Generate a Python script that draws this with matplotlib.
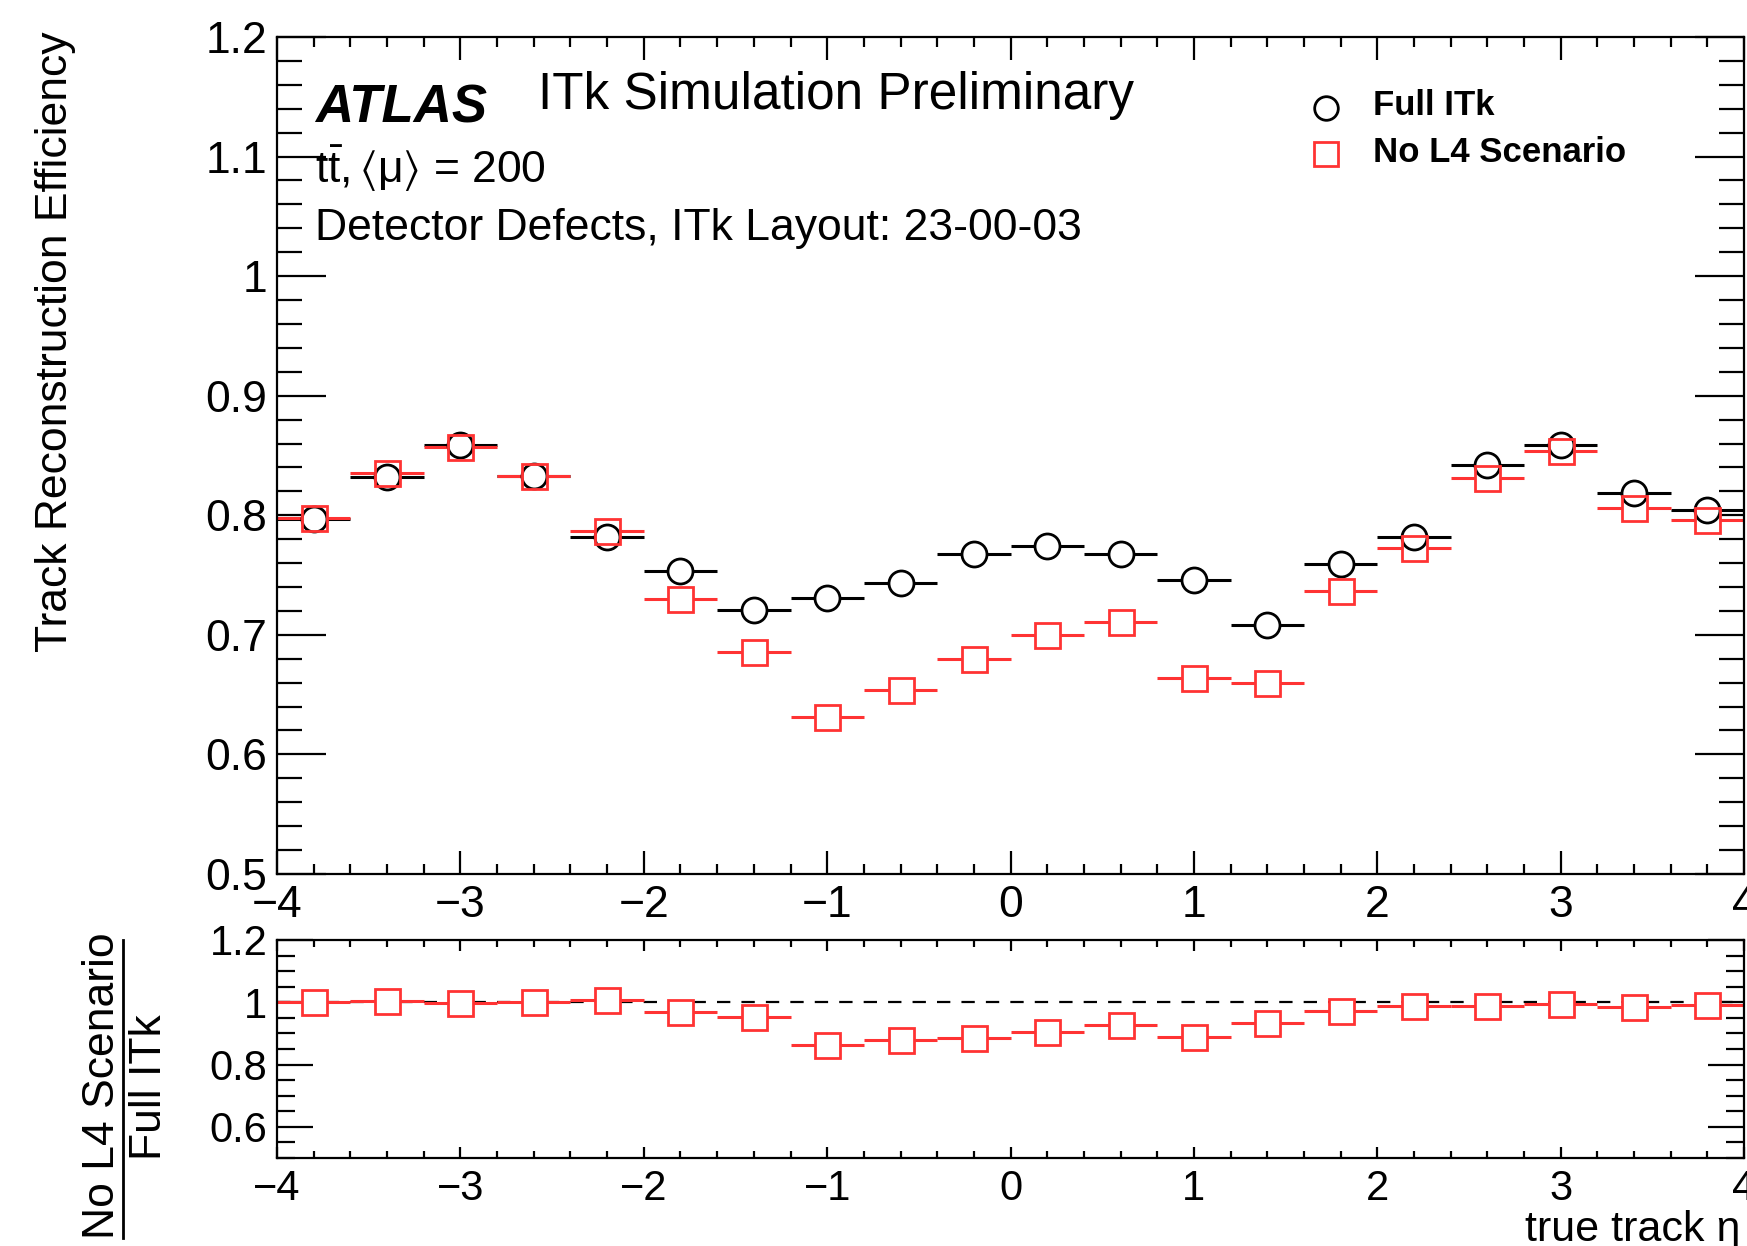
import matplotlib
matplotlib.use('Agg')
import matplotlib.pyplot as plt
from matplotlib.ticker import MultipleLocator, FuncFormatter
from matplotlib.lines import Line2D

# bin centres in true track eta (bin width 0.4)
eta = [-3.8, -3.4, -3.0, -2.6, -2.2, -1.8, -1.4, -1.0, -0.6, -0.2,
       0.2, 0.6, 1.0, 1.4, 1.8, 2.2, 2.6, 3.0, 3.4, 3.8]
eta_halfwidth = 0.2

eff_full_itk = [0.797, 0.832, 0.859, 0.833, 0.782, 0.753, 0.721, 0.731, 0.743, 0.768,
                0.774, 0.768, 0.746, 0.708, 0.759, 0.782, 0.842, 0.859, 0.819, 0.804]
eff_no_l4 = [0.798, 0.835, 0.857, 0.833, 0.787, 0.730, 0.686, 0.631, 0.654, 0.680,
             0.700, 0.711, 0.664, 0.660, 0.737, 0.773, 0.831, 0.854, 0.806, 0.796]

ratio = [n / f for n, f in zip(eff_no_l4, eff_full_itk)]

RED = '#ff3333'
FONT = 'Liberation Sans'

plt.rcParams['font.family'] = [FONT, 'DejaVu Sans']
plt.rcParams['mathtext.fontset'] = 'custom'
plt.rcParams['mathtext.rm'] = FONT
plt.rcParams['mathtext.it'] = FONT + ':italic'
plt.rcParams['mathtext.fallback'] = 'stixsans'
plt.rcParams['axes.linewidth'] = 1.6


def root_fmt(v, pos):
    return f'{v:g}'.replace('-', '\u2212')


def draw_points(ax, x, y, color, marker):
    # horizontal bars for the bin width, hidden inside the markers like ROOT does
    ax.errorbar(x, y, xerr=eta_halfwidth, fmt='none', ecolor=color,
                elinewidth=2.2, capsize=0, zorder=2)
    ax.plot(x, y, ls='none', marker=marker, ms=18, mfc='white', mec='none', zorder=3)
    ax.plot(x, y, ls='none', marker=marker, ms=18, mfc='none', mec=color,
            mew=2.0, zorder=4)


def style_axes(ax, ymaj, ymin, ylen, xlen, fs):
    ax.set_xlim(-4, 4)
    ax.xaxis.set_major_locator(MultipleLocator(1))
    ax.xaxis.set_minor_locator(MultipleLocator(0.2))
    ax.yaxis.set_major_locator(MultipleLocator(ymaj))
    ax.yaxis.set_minor_locator(MultipleLocator(ymin))
    ax.xaxis.set_major_formatter(FuncFormatter(root_fmt))
    ax.yaxis.set_major_formatter(FuncFormatter(root_fmt))
    ax.tick_params(which='both', direction='in', top=True, right=True,
                   width=1.6, labelsize=fs)
    ax.tick_params(axis='y', which='major', length=ylen[0], pad=7)
    ax.tick_params(axis='y', which='minor', length=ylen[1])
    ax.tick_params(axis='x', which='major', length=xlen[0], pad=8)
    ax.tick_params(axis='x', which='minor', length=xlen[1])


fig = plt.figure(figsize=(17.47, 12.46), dpi=100)

# main panel
ax = fig.add_axes([0.1586, 0.2986, 0.8397, 0.6717])
draw_points(ax, eta, eff_full_itk, 'black', 'o')
draw_points(ax, eta, eff_no_l4, RED, 's')
ax.set_ylim(0.5, 1.2)
style_axes(ax, 0.1, 0.02, (35, 18), (16.5, 7), 32)

ax.text(0.0259, 0.8984, 'ATLAS', transform=ax.transAxes, fontsize=38,
        fontweight='bold', fontstyle='italic', va='baseline')
ax.text(0.178, 0.914, 'ITk Simulation Preliminary', transform=ax.transAxes,
        fontsize=37, va='baseline')
ax.text(0.0259, 0.8256, r'$\mathrm{t\bar{t}},\langle\mathrm{\mu}\rangle$ = 200',
        transform=ax.transAxes, fontsize=32, va='baseline')
ax.text(0.0259, 0.7575, 'Detector Defects, ITk Layout: 23-00-03',
        transform=ax.transAxes, fontsize=32, va='baseline')

# legend
ax.plot([0.715], [0.9155], transform=ax.transAxes, ls='none', marker='o', ms=17,
        mfc='white', mec='black', mew=2.0, clip_on=False)
ax.plot([0.715], [0.860], transform=ax.transAxes, ls='none', marker='s', ms=17,
        mfc='white', mec=RED, mew=2.0, clip_on=False)
ax.text(0.747, 0.9068, 'Full ITk', transform=ax.transAxes, fontsize=25,
        fontweight='bold', va='baseline')
ax.text(0.747, 0.851, 'No L4 Scenario', transform=ax.transAxes, fontsize=25,
        fontweight='bold', va='baseline')

fig.text(67 / 1747, 1 - 31 / 1246, 'Track Reconstruction Efficiency', fontsize=32,
         rotation=90, rotation_mode='anchor', ha='right', va='baseline')

# ratio panel
rax = fig.add_axes([0.1586, 0.0706, 0.8397, 0.175])
rax.axhline(1.0, color='black', ls=(0, (6, 5)), lw=1.6, zorder=1)
draw_points(rax, eta, ratio, RED, 's')
rax.set_ylim(0.5, 1.2)
style_axes(rax, 0.2, 0.05, (26, 13), (8, 5), 30)

fig.text(114 / 1747, 1 - 1086 / 1246, 'No L4 Scenario', fontsize=32, rotation=90,
         rotation_mode='anchor', ha='center', va='baseline')
fig.add_artist(Line2D([122.8 / 1747, 122.8 / 1747], [1 - 940 / 1246, 1 - 1238 / 1246],
                      color='black', lw=2.0, transform=fig.transFigure))
fig.text(160.7 / 1747, 1 - 1087 / 1246, 'Full ITk', fontsize=32, rotation=90,
         rotation_mode='anchor', ha='center', va='baseline')

fig.text(1740 / 1747, 1 - 1241 / 1246, 'true track \u03b7', fontsize=31,
         ha='right', va='baseline')

fig.savefig('out.png', dpi=100)
